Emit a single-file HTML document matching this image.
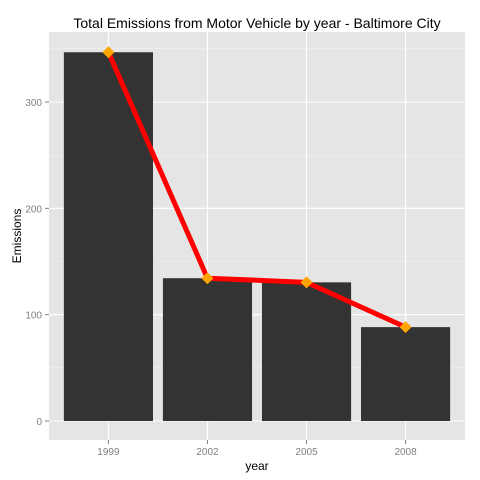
<!DOCTYPE html>
<html><head><meta charset="utf-8"><style>
html,body{margin:0;padding:0;background:#fff;width:480px;height:480px;overflow:hidden}
svg text{font-family:"Liberation Sans",sans-serif}
</style></head><body>
<svg id="chart" width="480" height="480" xmlns="http://www.w3.org/2000/svg">
<text x="257" y="28" font-size="14" text-anchor="middle" fill="#000">Total Emissions from Motor Vehicle by year - Baltimore City</text>
<rect x="49" y="32" width="416" height="408" fill="#e5e5e5"/>
<g id="grid"></g><g id="bars"></g><g id="line"></g><g id="axes"></g>
<text x="257" y="470" font-size="12" text-anchor="middle">year</text>
<text transform="translate(21,236) rotate(-90)" font-size="12" text-anchor="middle">Emissions</text>
</svg>
<script>
const categories=["1999","2002","2005","2008"];
const emissions=[346.8,134.3,130.4,88.3];
const yTicks=[0,100,200,300];
const yMinorTicks=[50,150,250,350];
const NS="http://www.w3.org/2000/svg";
const PL=49,PR=465,y0px=421,pxPer=1.0633;
const step=(PR-PL)/(categories.length-1+1.2);
function xs(i){return PL+step*(0.6+i);}
function ys(v){return y0px-v*pxPer;}
function mk(t,a,p){const e=document.createElementNS(NS,t);for(const k in a)e.setAttribute(k,a[k]);p.appendChild(e);return e;}
const grid=document.getElementById('grid'),bars=document.getElementById('bars'),line=document.getElementById('line'),axes=document.getElementById('axes');
yMinorTicks.forEach(v=>{const e=mk('line',{x1:PL,x2:PR,y1:ys(v),y2:ys(v),stroke:'#f2f2f2','stroke-width':0.6},grid);

});
yTicks.forEach(v=>{const e=mk('line',{x1:PL,x2:PR,y1:ys(v),y2:ys(v),stroke:'#fff','stroke-width':1.1},grid);


const t=mk('line',{x1:PL-4,x2:PL,y1:ys(v),y2:ys(v),stroke:'#7f7f7f'},axes);


const l=mk('text',{x:PL-7,y:ys(v)+4,'font-size':10,'text-anchor':'end',fill:'#7f7f7f'},axes);l.textContent=v;

});
categories.forEach((c,i)=>{const x=xs(i);
const g=mk('line',{x1:x,x2:x,y1:32,y2:440,stroke:'#fff','stroke-width':1.1},grid);


const t=mk('line',{x1:x,x2:x,y1:440,y2:444,stroke:'#7f7f7f'},axes);


const l=mk('text',{x:x,y:455,'font-size':10,'text-anchor':'middle',fill:'#7f7f7f'},axes);l.textContent=c;


const bw=step*0.9;
const b=mk('rect',{x:x-bw/2,y:ys(emissions[i]),width:bw,height:ys(0)-ys(emissions[i]),fill:'#333333'},bars);

});
const pts=emissions.map((v,i)=>xs(i)+','+ys(v)).join(' ');
const pl=mk('polyline',{points:pts,fill:'none',stroke:'#ff0000','stroke-width':5,'stroke-linejoin':'round'},line);


emissions.forEach((v,i)=>{const x=xs(i),y=ys(v);
const p=mk('polygon',{points:`${x},${y-6} ${x+6},${y} ${x},${y+6} ${x-6},${y}`,fill:'#ffa500'},line);

});
</script>
</body></html>
